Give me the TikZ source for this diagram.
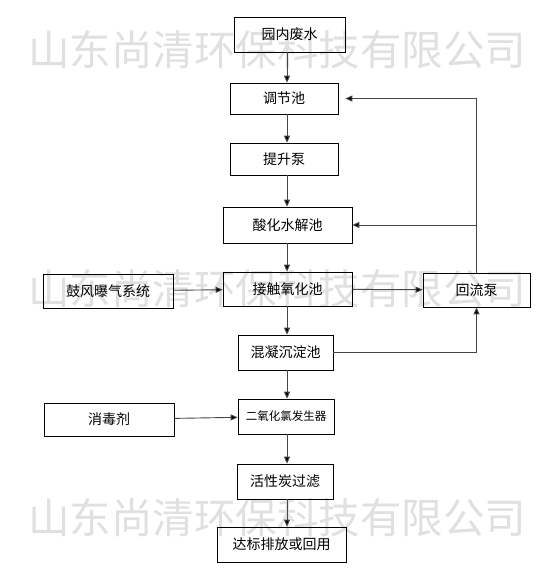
\documentclass[tikz,border=0pt]{standalone}
\usepackage{fontspec}
\setmainfont{Noto Sans CJK SC}
\usetikzlibrary{arrows.meta}
\definecolor{WMgray}{RGB}{224,224,224}
\definecolor{Linie}{RGB}{70,70,70}

\begin{document}
\begin{tikzpicture}[x=1pt, y=-1pt,
  Pfeil/.style={draw=Linie, line width=0.9pt, arrows = -{Triangle[length=7pt, width=6pt, fill=black]}},
  Kasten/.style={draw, line width=0.7pt, inner sep=0pt, font=\fontsize{14}{14}\selectfont},
  Wasserzeichen/.style={anchor=west, text=WMgray, inner sep=0pt, font=\fontsize{41.5}{41.5}\selectfont}]
\useasboundingbox (0,0) rectangle (559,585);
% watermark
\node[Wasserzeichen] (wz1) at (28,50) {山东尚清环保科技有限公司};
\node[Wasserzeichen] (wz2) at (28,289) {山东尚清环保科技有限公司};
\node[Wasserzeichen] (wz3) at (28,518) {山东尚清环保科技有限公司};
% main line
\node (abw) at (289.5,34.5) [Kasten, minimum width=111, minimum height=35] {园内废水};
\node (regel) at (284,98.5) [Kasten, minimum width=108, minimum height=31] {调节池};
\node (pumpe) at (284,159) [Kasten, minimum width=108, minimum height=32] {提升泵};
\node (hydro) at (287.5,225) [Kasten, minimum width=129, minimum height=36] {酸化水解池};
\node (oxid) at (287.5,289) [Kasten, minimum width=129, minimum height=34] {接触氧化池};
\node (absetz) at (285.5,352.5) [Kasten, minimum width=95, minimum height=35] {混凝沉淀池};
\node (chlor) at (286,416.5) [Kasten, minimum width=96, minimum height=35, font=\fontsize{11.5}{11.5}\selectfont] {二氧化氯发生器};
\node (kohle) at (285,481.5) [Kasten, minimum width=96, minimum height=35] {活性炭过滤};
\node (ende) at (281.5,544.5) [Kasten, minimum width=129, minimum height=35] {达标排放或回用};
% side boxes
\node (luft) at (108,291) [Kasten, minimum width=130, minimum height=34] {鼓风曝气系统};
\node (desinf) at (109,419.5) [Kasten, minimum width=130, minimum height=33] {消毒剂};
\node (rueck) at (476.5,290) [Kasten, minimum width=107, minimum height=34] {回流泵};
\coordinate (achse) at (287,0);
\draw[Pfeil] (abw.south -| achse) -- (regel.north -| achse);
\draw[Pfeil] (regel.south -| achse) -- (pumpe.north -| achse);
\draw[Pfeil] (pumpe.south -| achse) -- (hydro.north -| achse);
\draw[Pfeil] (hydro.south -| achse) -- (oxid.north -| achse);
\draw[Pfeil] (oxid.south -| achse) -- (absetz.north -| achse);
\draw[Pfeil] (absetz.south -| achse) -- (chlor.north -| achse);
\draw[Pfeil] (chlor.south -| achse) -- (kohle.north -| achse);
\draw[Pfeil] (kohle.south -| achse) -- (ende.north -| achse);
\draw[Pfeil] (luft) -- (oxid);
\draw[Pfeil] (desinf) -- (chlor);
\draw[Pfeil] (oxid) -- (rueck);
\draw[Pfeil] (absetz.east) -| (rueck.south);
\draw[Pfeil, shorten >=7pt] (rueck.north) |- (regel.east);
\draw[Pfeil] (rueck.north |- hydro.east) -- (hydro.east);
\end{tikzpicture}
\end{document}
